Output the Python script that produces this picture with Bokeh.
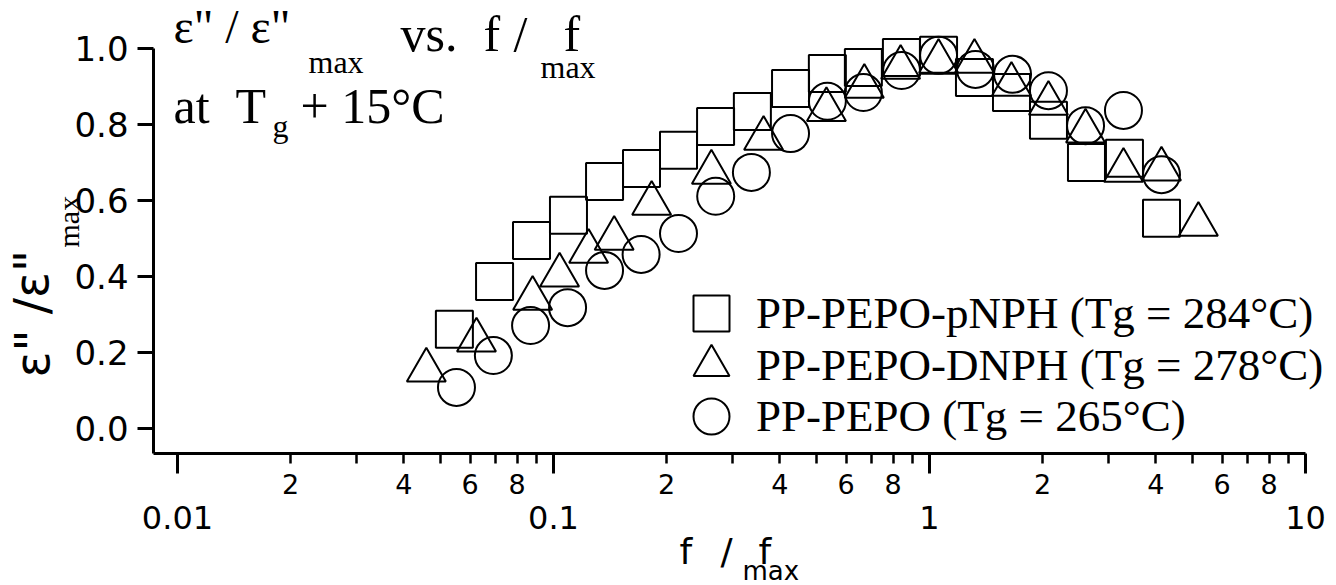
from bokeh.plotting import figure
from bokeh.models import (FixedTicker, LabelSet, ColumnDataSource, Legend,
                          LegendItem, Range1d)
from bokeh.core.properties import value
from bokeh.embed import file_html
from bokeh.resources import INLINE

# ---------------- data ----------------
pnph_f = [0.0545, 0.0697, 0.0874, 0.1096, 0.1367, 0.1714, 0.2150, 0.2698, 0.338, 0.427,
          0.535, 0.667, 0.842, 1.057, 1.317, 1.652, 2.072, 2.615, 3.30, 4.14]
pnph_e = [0.261, 0.387, 0.495, 0.561, 0.650, 0.684, 0.732, 0.795, 0.834, 0.895,
          0.934, 0.950, 0.976, 0.982, 0.924, 0.884, 0.811, 0.700, 0.711, 0.553]

dnph_f = [0.0459, 0.0624, 0.0880, 0.1038, 0.124, 0.145, 0.1824, 0.263, 0.362, 0.532,
          0.671, 0.838, 1.057, 1.317, 1.652, 2.072, 2.60, 3.28, 4.14, 5.19]
dnph_e = [0.153, 0.232, 0.342, 0.403, 0.466, 0.500, 0.592, 0.674, 0.763, 0.839,
          0.900, 0.950, 0.966, 0.966, 0.905, 0.855, 0.782, 0.679, 0.682, 0.537]

pepo_f = [0.0552, 0.0692, 0.0869, 0.109, 0.1367, 0.171, 0.215, 0.270, 0.336, 0.427,
          0.535, 0.667, 0.843, 1.057, 1.325, 1.663, 2.072, 2.60, 3.28, 4.14]
pepo_e = [0.108, 0.192, 0.271, 0.318, 0.416, 0.458, 0.513, 0.611, 0.674, 0.776,
          0.861, 0.884, 0.942, 0.982, 0.945, 0.932, 0.889, 0.797, 0.837, 0.668]

series_names = ["PP-PEPO-pNPH (Tg = 284°C)",
                "PP-PEPO-DNPH (Tg = 278°C)",
                "PP-PEPO (Tg = 265°C)"]

x_major_ticks = [0.01, 0.1, 1, 10]
x_major_labels = ["0.01", "0.1", "1", "10"]
x_minor_ticks = [m * d for d in (0.01, 0.1, 1) for m in range(2, 10)]
x_minor_label_ticks = [m * d for d in (0.01, 0.1, 1) for m in (2, 4, 6, 8)]
x_minor_labels = ["2", "4", "6", "8"] * 3

y_ticks = [0.0, 0.2, 0.4, 0.6, 0.8, 1.0]
y_labels = ["0.0", "0.2", "0.4", "0.6", "0.8", "1.0"]

# ---------------- layout constants (pixels) ----------------
W, H = 1336, 585
X_LEFT_LOG, X_RIGHT_LOG = -2.47074, 1.08245      # log10(f/fmax) at canvas edges
Y_BOTTOM, Y_TOP = -0.41316, 1.12632              # e/emax at canvas edges
X_AXIS_AT = -0.0658                               # y value where the x axis is drawn
Y_AXIS_AT = 10 ** -2.0638                         # f/fmax where the y axis is drawn

SANS = "DejaVu Sans"
SERIF = "Liberation Serif"

p = figure(width=W, height=H, x_axis_type="log",
           x_range=Range1d(10 ** X_LEFT_LOG, 10 ** X_RIGHT_LOG),
           y_range=Range1d(Y_BOTTOM, Y_TOP),
           output_backend="svg", toolbar_location=None,
           min_border_left=0, min_border_right=0, min_border_top=0, min_border_bottom=0)
p.outline_line_color = None
p.grid.visible = False
p.background_fill_color = "white"
p.border_fill_color = "white"

# x axis
xa = p.xaxis[0]
xa.fixed_location = X_AXIS_AT
xa.bounds = (Y_AXIS_AT, 10)
xa.ticker = FixedTicker(ticks=x_major_ticks, minor_ticks=x_minor_ticks)
xa.major_label_overrides = dict(zip(x_major_ticks, x_major_labels))
xa.axis_line_width = 3
xa.axis_line_color = "black"
xa.major_tick_line_width = 3
xa.minor_tick_line_width = 2.5
xa.major_tick_line_color = "black"
xa.minor_tick_line_color = "black"
xa.major_tick_out = 20
xa.major_tick_in = 0
xa.minor_tick_out = 10
xa.minor_tick_in = 0
xa.major_label_text_font = SANS
xa.major_label_text_font_size = "32px"
xa.major_label_text_color = "black"
xa.major_label_standoff = 32

# y axis
ya = p.yaxis[0]
ya.fixed_location = Y_AXIS_AT
ya.bounds = (X_AXIS_AT, 1.0)
ya.ticker = FixedTicker(ticks=y_ticks, minor_ticks=[])
ya.major_label_overrides = dict(zip(y_ticks, y_labels))
ya.axis_line_width = 3
ya.axis_line_color = "black"
ya.major_tick_line_width = 3
ya.major_tick_line_color = "black"
ya.major_tick_out = 16
ya.major_tick_in = 0
ya.minor_tick_out = 0
ya.minor_tick_in = 0
ya.major_label_text_font = SANS
ya.major_label_text_font_size = "34px"
ya.major_label_text_color = "black"
ya.major_label_standoff = 9

# minor tick labels 2 4 6 8 (baseline 493 px from top)
minor_src = ColumnDataSource(dict(x=x_minor_label_ticks, t=x_minor_labels))
p.add_layout(LabelSet(x="x", y=H - 493, y_units="screen", text="t", source=minor_src,
                      text_align="center", text_baseline="alphabetic",
                      text_font=value(SANS), text_font_size="27px", text_color="black"))

# ---------------- data marks ----------------
r_sq = p.scatter(pnph_f, pnph_e, marker="square", size=37, fill_color=None,
                 line_color="black", line_width=2)
r_tr = p.scatter(dnph_f, dnph_e, marker="triangle", size=39, fill_color=None,
                 line_color="black", line_width=2)
r_ci = p.scatter(pepo_f, pepo_e, marker="circle", size=37, fill_color=None,
                 line_color="black", line_width=2)

# legend: one entry per Legend so the rows can sit close together
row_centers = [313, 365, 416]      # px from top
key_center_x = 711
for name, rend, cy in zip(series_names, [r_sq, r_tr, r_ci], row_centers):
    lg = Legend(items=[LegendItem(label=name, renderers=[rend])],
                location=(key_center_x - 45, H - cy - 45),
                glyph_width=90, glyph_height=90, spacing=0,
                label_standoff=-6, padding=0, margin=0, border_line_color=None,
                background_fill_alpha=0, label_text_font=SERIF,
                label_text_font_size="45px", label_text_color="black",
                label_text_baseline="middle")
    p.add_layout(lg)

# ---------------- free texts (title, axis titles) ----------------
# each: text, x of start, y of baseline (px from top-left), size, font, angle
texts = [
    ('ε" / ε"', 173, 42, "48px", SERIF, 0),
    ("max", 308, 72, "32px", SERIF, 0),
    ("vs.", 400, 50, "50px", SERIF, 0),
    ("f", 483, 50, "50px", SERIF, 0),
    ("/", 513, 50, "50px", SERIF, 0),
    ("f", 563, 50, "50px", SERIF, 0),
    ("max", 540, 77, "32px", SERIF, 0),
    ("at", 173, 122, "50px", SERIF, 0),
    ("T", 235, 122, "50px", SERIF, 0),
    ("g", 272, 136, "32px", SERIF, 0),
    ("+ 15°C", 300, 122, "50px", SERIF, 0),
    ('ε" /ε"', 48, 377, "48px", SANS, 90),
    ("max", 78, 247, "30px", SERIF, 90),
    ("f", 679, 563, "36px", SANS, 0),
    ("/", 720, 563, "36px", SANS, 0),
    ("f", 758, 563, "36px", SANS, 0),
    ("max", 742, 579, "26px", SANS, 0),
]
txt_src = ColumnDataSource(dict(
    x=[t[1] for t in texts], y=[H - t[2] for t in texts], t=[t[0] for t in texts],
    size=[t[3] for t in texts], font=[t[4] for t in texts], angle=[t[5] for t in texts]))
p.add_layout(LabelSet(x="x", y="y", x_units="screen", y_units="screen", text="t",
                      source=txt_src, text_font="font", text_font_size="size",
                      angle="angle", angle_units="deg", text_align="left",
                      text_baseline="alphabetic", text_color="black"))

open("out.html", "w").write(file_html(p, INLINE))
